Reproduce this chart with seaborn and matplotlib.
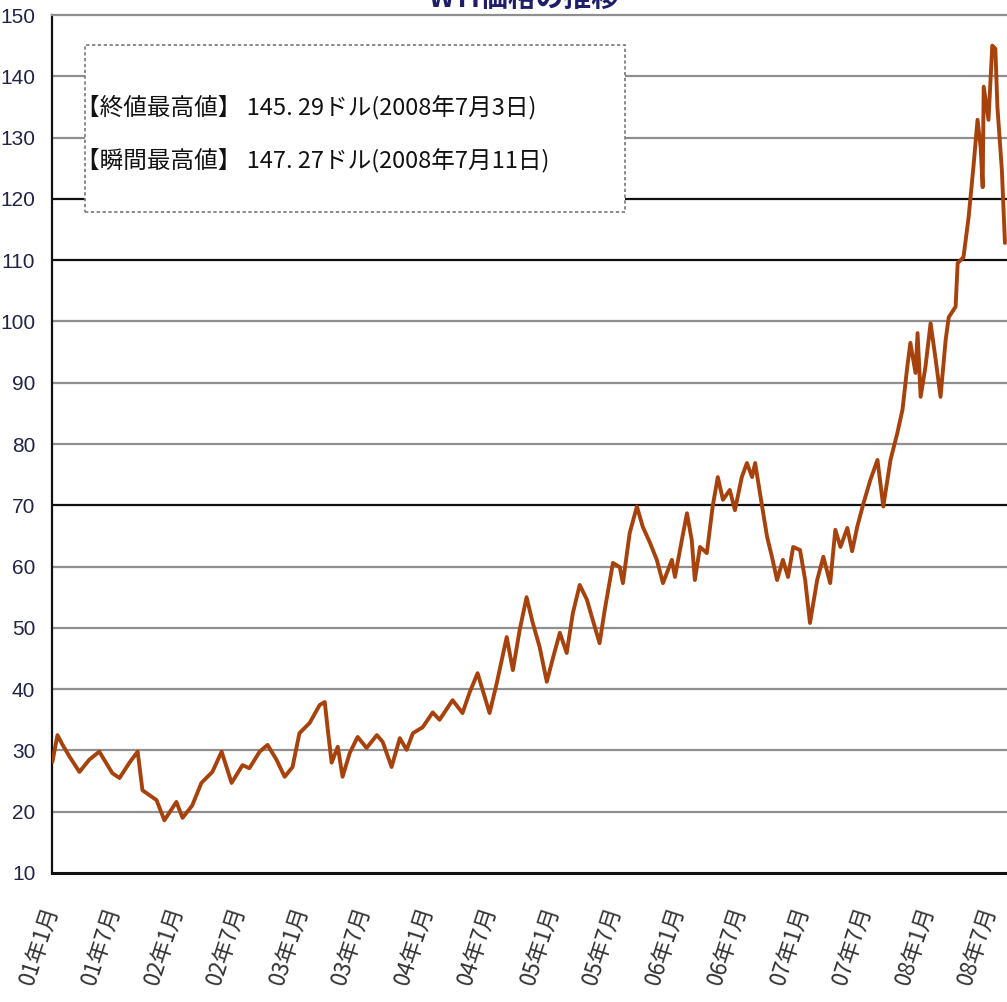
import pandas as pd
import seaborn as sns
import matplotlib.pyplot as plt
from matplotlib import font_manager
from matplotlib.patches import Rectangle

# WTI closing prices (USD / barrel)
dates_2001 = ["2001-01-02", "2001-01-17", "2001-01-31", "2001-02-21", "2001-03-22", "2001-04-20",
              "2001-05-19", "2001-06-26", "2001-07-17", "2001-08-15", "2001-09-08", "2001-09-22",
              "2001-11-02", "2001-11-25", "2001-12-30"]
price_2001 = [28.1, 32.5, 31.0, 29.0, 26.5, 28.5, 29.8, 26.3, 25.5, 28.0, 29.8, 23.5, 21.9, 18.6, 21.6]

dates_2002 = ["2002-01-17", "2002-02-14", "2002-03-13", "2002-04-14", "2002-05-11", "2002-06-09",
              "2002-07-11", "2002-07-31", "2002-08-30", "2002-09-22", "2002-10-18", "2002-11-11",
              "2002-12-04", "2002-12-24"]
price_2002 = [19.0, 21.0, 24.7, 26.5, 29.8, 24.7, 27.6, 27.1, 29.8, 30.9, 28.5, 25.7, 27.3, 32.8]

dates_2003 = ["2003-01-23", "2003-02-21", "2003-03-08", "2003-03-17", "2003-03-28", "2003-04-15",
              "2003-04-29", "2003-05-20", "2003-06-12", "2003-07-08", "2003-08-07", "2003-08-24",
              "2003-09-19", "2003-10-13", "2003-11-02", "2003-11-20", "2003-12-19"]
price_2003 = [34.5, 37.4, 37.9, 33.3, 28.0, 30.6, 25.7, 29.6, 32.2, 30.4, 32.5, 31.4, 27.3, 32.0,
              30.1, 32.8, 33.8]

dates_2004 = ["2004-01-17", "2004-02-06", "2004-03-15", "2004-04-13", "2004-05-04", "2004-05-27",
              "2004-06-17", "2004-07-01", "2004-07-22", "2004-08-20", "2004-09-07", "2004-09-27",
              "2004-10-17", "2004-11-04", "2004-11-24", "2004-12-15"]
price_2004 = [36.2, 35.0, 38.2, 36.1, 39.5, 42.6, 38.7, 36.1, 41.0, 48.5, 43.1, 49.7, 55.0, 50.8,
              46.9, 41.2]

dates_2005 = ["2005-01-03", "2005-01-22", "2005-02-11", "2005-03-01", "2005-03-21", "2005-04-11",
              "2005-04-28", "2005-05-18", "2005-06-02", "2005-06-26", "2005-07-16", "2005-07-25",
              "2005-08-14", "2005-09-04", "2005-09-21", "2005-10-12", "2005-11-01", "2005-11-19",
              "2005-12-15", "2005-12-24"]
price_2005 = [45.3, 49.2, 45.9, 52.4, 57.0, 54.6, 51.3, 47.5, 52.9, 60.6, 59.9, 57.3, 65.5, 69.8,
              66.5, 63.9, 61.1, 57.3, 61.1, 58.3]

dates_2006 = ["2006-01-13", "2006-01-28", "2006-02-11", "2006-02-20", "2006-03-07", "2006-03-27",
              "2006-04-13", "2006-04-28", "2006-05-13", "2006-06-02", "2006-06-17", "2006-07-07",
              "2006-07-22", "2006-08-06", "2006-08-15", "2006-08-29", "2006-09-19", "2006-10-03",
              "2006-10-18", "2006-11-04", "2006-11-19", "2006-12-04", "2006-12-24"]
price_2006 = [64.3, 68.7, 64.3, 57.8, 63.2, 62.2, 69.8, 74.6, 70.9, 72.5, 69.2, 74.6, 76.9, 74.6,
              76.9, 72.0, 64.8, 61.6, 57.8, 61.1, 58.3, 63.2, 62.7]

dates_2007 = ["2007-01-08", "2007-01-22", "2007-02-12", "2007-03-02", "2007-03-22", "2007-04-06",
              "2007-04-21", "2007-05-11", "2007-05-25", "2007-06-09", "2007-06-27", "2007-07-17",
              "2007-08-07", "2007-08-24", "2007-09-14", "2007-10-04", "2007-10-19", "2007-11-02",
              "2007-11-11", "2007-11-26", "2007-12-02", "2007-12-11", "2007-12-25"]
price_2007 = [57.8, 50.8, 57.8, 61.6, 57.3, 66.0, 63.2, 66.3, 62.5, 66.5, 70.3, 74.1, 77.4, 69.8,
              77.4, 81.8, 85.6, 92.6, 96.5, 91.6, 98.1, 87.7, 92.6]

dates_2008 = ["2008-01-09", "2008-01-24", "2008-02-07", "2008-02-22", "2008-03-02", "2008-03-22",
              "2008-03-28", "2008-04-14", "2008-04-29", "2008-05-14", "2008-05-25", "2008-06-03",
              "2008-06-09", "2008-06-12", "2008-06-26", "2008-07-02", "2008-07-07", "2008-07-16",
              "2008-07-22", "2008-08-04", "2008-08-13"]
price_2008 = [99.7, 93.7, 87.7, 97.0, 100.7, 102.4, 109.5, 110.5, 117.0, 125.8, 132.9, 128.5,
              121.9, 138.3, 132.9, 139.4, 145.0, 144.5, 135.0, 124.7, 112.8]

y_ticks = list(range(10, 151, 10))
note_lines = ["【終値最高値】 145. 29ドル(2008年7月3日)",
              "【瞬間最高値】 147. 27ドル(2008年7月11日)"]
title = "WTI価格の推移"

df = pd.DataFrame({
    "date": pd.to_datetime(dates_2001 + dates_2002 + dates_2003 + dates_2004 + dates_2005
                           + dates_2006 + dates_2007 + dates_2008),
    "price": price_2001 + price_2002 + price_2003 + price_2004 + price_2005
             + price_2006 + price_2007 + price_2008,
})

sns.set_style("white")
jp = ["Noto Sans CJK JP", "DejaVu Sans"]
plt.rcParams["font.family"] = jp
names = {f.name for f in font_manager.fontManager.ttflist}
num_font = "Liberation Sans Narrow" if "Liberation Sans Narrow" in names else "Liberation Sans"
num_size = 18 if num_font == "Liberation Sans Narrow" else 15

fig = plt.figure(figsize=(10.07, 10.02), dpi=100)
ax = fig.add_axes([52 / 1007, 1 - 873 / 1002, (1007 - 52) / 1007, (873 - 15) / 1002])

# horizontal grid lines (some render darker in the original)
dark = {70, 110, 120}
for v in y_ticks[1:-1]:
    ax.axhline(v, color="#111111" if v in dark else "#8f8f8f", lw=1.6, zorder=1)

sns.lineplot(data=df, x="date", y="price", ax=ax, color="#a8420c", linewidth=2.8, zorder=3)

ax.set_xlim(pd.Timestamp("2001-01-01"), pd.Timestamp("2008-08-19"))
ax.set_ylim(10, 150)
ax.set_xlabel("")
ax.set_ylabel("")

xt = pd.date_range("2001-01-01", "2008-07-01", freq="6MS")
ax.set_xticks(xt)
ax.set_xticklabels([f"{d:%y}年{d.month}月" for d in xt], rotation=72, ha="right", va="center",
                   rotation_mode="anchor", fontsize=16, color="#333333")
ax.tick_params(axis="x", direction="in", length=8, width=1, color="#777777", pad=24)

ax.set_yticks(y_ticks)
ax.set_yticklabels([str(v) for v in y_ticks], family=num_font, fontsize=num_size,
                   color="#22224a")
ax.tick_params(axis="y", length=0, pad=12)

for side in ["left", "bottom"]:
    ax.spines[side].set_color("#111111")
ax.spines["left"].set_linewidth(1.6)
ax.spines["bottom"].set_linewidth(2.2)
ax.spines["top"].set_color("#8f8f8f")
ax.spines["top"].set_linewidth(1.6)
ax.spines["right"].set_visible(False)

# dashed note box
box = Rectangle((85 / 1007, 1 - 212 / 1002), 540 / 1007, 167 / 1002, transform=fig.transFigure,
                facecolor="white", edgecolor="#777777", linestyle=(0, (2, 1.5)), lw=1.2,
                zorder=5)
fig.patches.append(box)
fig.text(0.075, 1 - 107 / 1002, note_lines[0], fontsize=17, va="center", ha="left",
         color="#111111", zorder=6)
fig.text(0.075, 1 - 160 / 1002, note_lines[1], fontsize=17, va="center", ha="left",
         color="#111111", zorder=6)

# title, mostly cut off at the top edge as in the source
fig.text(0.52, 1 - 7 / 1002, title, fontsize=20, fontweight="bold", ha="center",
         va="baseline", color="#1e1e6a")

fig.savefig("out.png", dpi=100)
